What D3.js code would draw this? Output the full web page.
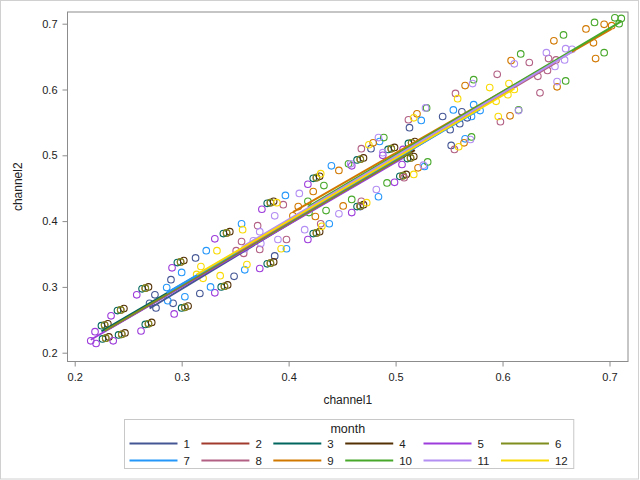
<!DOCTYPE html>
<html>
<head>
<meta charset="utf-8">
<script src="https://cdn.jsdelivr.net/npm/d3@7"></script>
<style>
  body { margin: 0; background: #fff; }
  text { font-family: "Liberation Sans", Arial, sans-serif; }
</style>
</head>
<body>
<script>
// month labels and colours
var months = ["1","2","3","4","5","6","7","8","9","10","11","12"];
var colors = ["#445694","#A23A2E","#01665E","#543005","#9D3CDB","#7F8E1F",
              "#2597FA","#B26084","#D17800","#47A82A","#B38EF3","#F9DA04"];
var xTicks = [0.2, 0.3, 0.4, 0.5, 0.6, 0.7];
var yTicks = [0.2, 0.3, 0.4, 0.5, 0.6, 0.7];

// [channel1, channel2] per month
var month1 = [[0.313,0.344],[0.290,0.311],[0.275,0.288],[0.270,0.275],[0.276,0.268],[0.292,0.275],
  [0.317,0.290],[0.349,0.316],[0.387,0.347],[0.467,0.422],[0.477,0.510],[0.513,0.542],[0.544,0.559],
  [0.551,0.539],[0.552,0.515],[0.560,0.548],[0.562,0.566],[0.567,0.557]];
var month2 = [[0.228,0.242],[0.243,0.265],[0.266,0.298],[0.299,0.338],[0.342,0.382],[0.383,0.428],
  [0.426,0.466],[0.467,0.494],[0.496,0.510],[0.515,0.519],[0.229,0.222],[0.244,0.228],[0.269,0.244],
  [0.303,0.269],[0.340,0.301],[0.383,0.336],[0.426,0.382],[0.467,0.423],[0.514,0.496],[0.507,0.469]];
var month3 = [[0.225,0.241],[0.240,0.264],[0.263,0.297],[0.296,0.337],[0.339,0.381],[0.380,0.427],
  [0.423,0.465],[0.464,0.493],[0.493,0.509],[0.512,0.518],[0.226,0.221],[0.241,0.227],[0.266,0.243],
  [0.300,0.268],[0.337,0.300],[0.380,0.335],[0.423,0.381],[0.464,0.422],[0.511,0.495],[0.504,0.468]];
var month4 = [[0.231,0.244],[0.246,0.267],[0.269,0.300],[0.302,0.340],[0.345,0.384],[0.386,0.430],
  [0.429,0.468],[0.470,0.496],[0.499,0.512],[0.518,0.521],[0.232,0.224],[0.247,0.230],[0.272,0.246],
  [0.306,0.271],[0.343,0.303],[0.386,0.338],[0.429,0.384],[0.470,0.425],[0.517,0.498],[0.510,0.471]];
var month5 = [[0.219,0.232],[0.234,0.256],[0.258,0.288],[0.291,0.329],[0.331,0.373],[0.375,0.418],
  [0.418,0.456],[0.459,0.484],[0.488,0.500],[0.507,0.509],[0.215,0.218],[0.220,0.214],[0.236,0.218],
  [0.262,0.233],[0.293,0.259],[0.331,0.291],[0.373,0.328],[0.418,0.372],[0.459,0.413],[0.506,0.486],
  [0.499,0.459]];
var month6 = [[0.228,0.242],[0.243,0.265],[0.266,0.298],[0.299,0.338],[0.342,0.382],[0.383,0.428],
  [0.426,0.466],[0.467,0.494],[0.496,0.510],[0.515,0.519],[0.229,0.222],[0.244,0.228],[0.269,0.244],
  [0.303,0.269],[0.340,0.301],[0.383,0.336],[0.426,0.382],[0.467,0.423],[0.514,0.496],[0.507,0.469]];
var month7 = [[0.300,0.322],[0.286,0.299],[0.287,0.279],[0.303,0.285],[0.323,0.355],[0.327,0.300],
  [0.359,0.326],[0.356,0.396],[0.397,0.439],[0.398,0.358],[0.438,0.396],[0.440,0.484],[0.485,0.521],
  [0.484,0.437],[0.524,0.553],[0.527,0.483],[0.554,0.569],[0.565,0.525],[0.573,0.577],[0.579,0.568],
  [0.571,0.559]];
var month8 = [[0.356,0.369],[0.358,0.351],[0.351,0.355],[0.371,0.393],[0.373,0.357],[0.398,0.372],
  [0.395,0.425],[0.430,0.396],[0.468,0.510],[0.468,0.430],[0.508,0.466],[0.512,0.554],[0.555,0.509],
  [0.556,0.594],[0.595,0.623],[0.598,0.551],[0.625,0.641],[0.633,0.620],[0.635,0.595],[0.642,0.629],
  [0.643,0.647],[0.650,0.645]];
var month9 = [[0.404,0.408],[0.409,0.422],[0.423,0.445],
  [0.425,0.407],[0.447,0.477],[0.451,0.423],[0.479,0.519],[0.520,0.563],[0.521,0.481],[0.564,0.519],
  [0.565,0.606],[0.607,0.560],[0.608,0.644],[0.648,0.674],[0.651,0.604],[0.678,0.692],[0.685,0.671],
  [0.687,0.647],[0.695,0.699],[0.702,0.697]];
var month10 = [[0.418,0.430],[0.419,0.413],[0.433,0.454],[0.435,0.416],[0.456,0.487],[0.459,0.433],
  [0.489,0.527],[0.492,0.458],[0.529,0.572],[0.530,0.490],[0.571,0.528],[0.573,0.615],[0.615,0.569],
  [0.617,0.654],[0.657,0.683],[0.659,0.613],[0.686,0.702],[0.695,0.656],[0.705,0.709],[0.709,0.700],
  [0.711,0.708]];
var month11 = [[0.359,0.358],[0.367,0.370],[0.373,0.384],[0.374,0.366],[0.390,0.372],[0.387,0.408],
  [0.410,0.442],[0.415,0.387],[0.447,0.411],[0.458,0.487],[0.482,0.448],[0.484,0.527],[0.488,0.504],
  [0.528,0.572],[0.526,0.485],[0.570,0.524],[0.572,0.609],[0.611,0.639],[0.615,0.568],[0.641,0.656],
  [0.649,0.635],[0.651,0.612],[0.658,0.645],[0.659,0.662],[0.665,0.661]];
var month12 = [[0.318,0.331],[0.314,0.319],[0.333,0.355],[0.320,0.313],[0.336,0.317],[0.361,0.334],
  [0.357,0.387],[0.393,0.358],[0.389,0.428],[0.430,0.472],[0.431,0.392],[0.475,0.516],[0.473,0.428],
  [0.517,0.557],[0.517,0.471],[0.559,0.513],[0.558,0.586],[0.588,0.603],[0.606,0.609],[0.611,0.600],
  [0.605,0.592],[0.594,0.582],[0.596,0.559]];

var groups = [month1, month2, month3, month4, month5, month6,
              month7, month8, month9, month10, month11, month12];

var W = 640, H = 480;
var plot = {left: 67.5, right: 628, top: 12, bottom: 361.5};

var svg = d3.select("body").append("svg")
    .attr("width", W)
    .attr("height", H);

// outer border
svg.append("rect")
    .attr("x", 0.5).attr("y", 0.5)
    .attr("width", 638).attr("height", 478.5)
    .attr("fill", "#fff")
    .attr("stroke", "#d0d0d0");

// scales (0.2 sits a few px in from the wall, like the original)
var x = d3.scaleLinear()
    .domain([0.2 - 7.2 / 1070, 0.2 + 553.5 / 1070])
    .range([plot.left, plot.right]);
var y = d3.scaleLinear()
    .domain([0.2 - 8.8 / 658, 0.2 + 340.7 / 658])
    .range([plot.bottom, plot.top]);

// axes
var xAxis = svg.append("g")
    .attr("transform", "translate(0," + plot.bottom + ")")
    .call(d3.axisBottom(x).tickValues(xTicks).tickFormat(d3.format(".1f"))
        .tickSize(5).tickSizeOuter(0).tickPadding(7));
var yAxis = svg.append("g")
    .attr("transform", "translate(" + plot.left + ",0)")
    .call(d3.axisLeft(y).tickValues(yTicks).tickFormat(d3.format(".1f"))
        .tickSize(5).tickSizeOuter(0).tickPadding(5));
[xAxis, yAxis].forEach(function(g) {
  g.select(".domain").remove();
  g.selectAll(".tick line").attr("stroke", "#8c8c8c");
  g.selectAll(".tick text").attr("fill", "#222")
      .style("font-family", "'Liberation Sans', Arial, sans-serif")
      .style("font-size", "11px");
});

// wall frame
svg.append("rect")
    .attr("x", plot.left).attr("y", plot.top)
    .attr("width", plot.right - plot.left).attr("height", plot.bottom - plot.top)
    .attr("fill", "none")
    .attr("stroke", "#8c8c8c");

// axis labels
svg.append("text")
    .attr("x", (plot.left + plot.right) / 2).attr("y", 404)
    .attr("text-anchor", "middle")
    .attr("font-size", 12).attr("fill", "#222")
    .text("channel1");
svg.append("text")
    .attr("transform", "translate(22," + (plot.top + plot.bottom) / 2 + ") rotate(-90)")
    .attr("text-anchor", "middle")
    .attr("font-size", 12).attr("fill", "#222")
    .text("channel2");

// markers
groups.forEach(function(pts, i) {
  svg.append("g").selectAll("circle")
      .data(pts)
      .enter()
      .append("circle")
      .attr("cx", function(d) { return x(d[0]); })
      .attr("cy", function(d) { return y(d[1]); })
      .attr("r", 3.3)
      .attr("fill", "none")
      .attr("stroke", colors[i])
      .attr("stroke-width", 1.1);
});

// fitted regression line per month
groups.forEach(function(pts, i) {
  var mx = d3.mean(pts, function(d) { return d[0]; });
  var my = d3.mean(pts, function(d) { return d[1]; });
  var sxy = d3.sum(pts, function(d) { return (d[0] - mx) * (d[1] - my); });
  var sxx = d3.sum(pts, function(d) { return (d[0] - mx) * (d[0] - mx); });
  var b = sxy / sxx, a = my - b * mx;
  var ext = d3.extent(pts, function(d) { return d[0]; });
  svg.append("line")
      .attr("x1", x(ext[0])).attr("y1", y(a + b * ext[0]))
      .attr("x2", x(ext[1])).attr("y2", y(a + b * ext[1]))
      .attr("stroke", colors[i])
      .attr("stroke-width", 2);
});

// legend
var legend = svg.append("g");
var box = legend.append("rect")
    .attr("y", 419.5).attr("height", 49)
    .attr("fill", "none")
    .attr("stroke", "#c8c8c8");
legend.append("text")
    .attr("x", (plot.left + plot.right) / 2).attr("y", 433)
    .attr("text-anchor", "middle")
    .attr("font-size", 12.5).attr("fill", "#222")
    .text("month");

var rowLine = [443.5, 460.5], rowText = [447.5, 465];
var colX = 129.5;
for (var c = 0; c < 6; c++) {
  var maxW = 0;
  for (var r = 0; r < 2; r++) {
    var k = r * 6 + c;
    legend.append("line")
        .attr("x1", colX).attr("x2", colX + 48)
        .attr("y1", rowLine[r]).attr("y2", rowLine[r])
        .attr("stroke", colors[k])
        .attr("stroke-width", 2);
    var t = legend.append("text")
        .attr("x", colX + 54).attr("y", rowText[r])
        .attr("font-size", 11.5).attr("fill", "#222")
        .text(months[k]);
    maxW = Math.max(maxW, t.node().getComputedTextLength());
  }
  colX += 54 + maxW + (c < 5 ? 11.5 : 0);
}
box.attr("x", 124.5).attr("width", colX + 6 - 124.5);
</script>
</body>
</html>
